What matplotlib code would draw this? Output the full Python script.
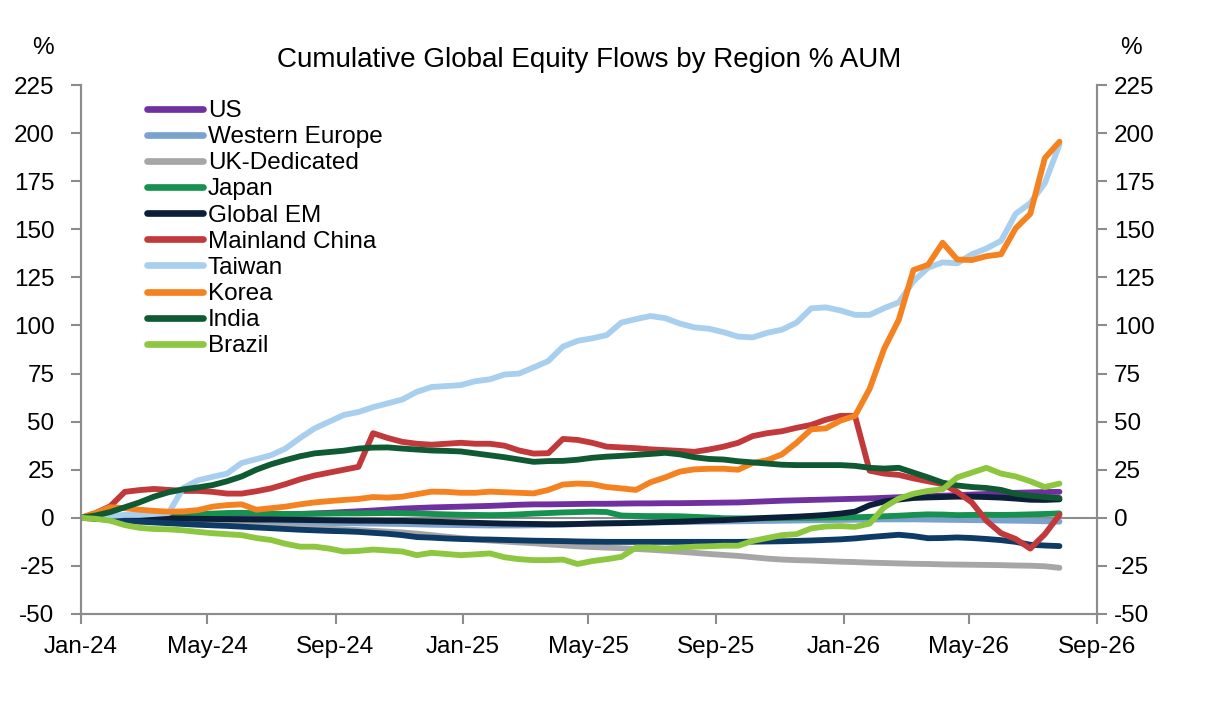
import pandas as pd
import matplotlib
matplotlib.use("Agg")
import matplotlib.pyplot as plt
import matplotlib.dates as mdates

plt.rcParams['font.family'] = ['Liberation Sans', 'DejaVu Sans']
plt.rcParams['axes.unicode_minus'] = False

# fortnightly observations, Jan-24 .. Jul-26
dates = pd.date_range("2024-01-01", periods=68, freq="14D")

us = [0, 0.2, 0.3, 0.4, 0.5, 0.6, 0.7, 0.8, 0.9, 1, 1.1, 1.2, 1.4, 1.6, 1.8, 2, 2.3, 2.6, 3, 3.4,
      3.8, 4.3, 4.8, 5.1, 5.4, 5.6, 5.8, 6, 6.2, 6.5, 6.8, 7, 7, 7.1, 7.2, 7.3, 7.3, 7.4, 7.5, 7.5,
      7.6, 7.6, 7.7, 7.8, 7.9, 8, 8.3, 8.6, 8.9, 9.1, 9.3, 9.5, 9.7, 9.9, 10.1, 10.4, 10.7, 11, 11.2, 11.5,
      11.8, 12.1, 12.4, 12.7, 13, 13.2, 13.4, 13.5]
western_europe = [0, -0.2, -0.4, -0.6, -0.8, -1, -1.2, -1.4, -1.6, -1.8, -2, -2.1, -2.2, -2.3, -2.4, -2.5, -2.6, -2.7, -2.8, -2.9,
                  -3, -3.1, -3.2, -3.4, -3.6, -3.7, -3.8, -3.9, -4, -4, -4, -3.9, -3.8, -3.6, -3.3, -3, -2.8, -2.6, -2.5, -2.4,
                  -2.3, -2.2, -2.1, -2, -1.9, -1.8, -1.7, -1.6, -1.5, -1.4, -1.3, -1.2, -1.1, -1, -0.9, -0.8, -0.8, -0.8, -0.9, -1,
                  -1.1, -1.2, -1.3, -1.4, -1.5, -1.6, -1.8, -2]
uk = [0, -0.3, -0.6, -1, -1.3, -1.7, -2, -2.3, -2.7, -3, -3.3, -3.6, -4, -4.3, -4.7, -5, -5.3, -5.7, -6, -6.4,
      -6.8, -7.2, -7.6, -8.2, -9, -9.8, -10.5, -11.2, -11.8, -12.3, -12.8, -13.2, -13.8, -14.3, -14.8, -15.2, -15.5, -15.8, -16.2, -16.6,
      -17.1, -17.6, -18.2, -18.8, -19.3, -19.8, -20.5, -21.2, -21.7, -22, -22.2, -22.5, -22.8, -23, -23.3, -23.5, -23.7, -23.9, -24, -24.2,
      -24.3, -24.4, -24.5, -24.6, -24.8, -24.9, -25.2, -26]
japan = [0, 0.3, 0.6, 0.8, 1, 1.2, 1.3, 1.5, 1.8, 2.2, 2.5, 2.6, 2.4, 2.2, 2, 2, 2.1, 2.2, 2.3, 2.3,
         2.4, 2.5, 2.4, 2.2, 2, 1.8, 1.6, 1.5, 1.4, 1.5, 1.8, 2.2, 2.5, 2.8, 3, 3.2, 3, 1.2, 1, 0.9,
         0.9, 0.8, 0.5, 0.2, -0.2, -0.3, -0.3, -0.2, -0.1, 0, 0, 0.1, 0.2, 0.3, 0.5, 0.8, 1.1, 1.5, 1.8, 1.7,
         1.4, 1.5, 1.6, 1.5, 1.6, 1.8, 2, 2.3]
global_em = [0, -0.1, -0.2, -0.2, -0.3, -0.3, -0.3, -0.4, -0.5, -0.6, -0.7, -0.8, -0.9, -0.9, -1, -1.1, -1.2, -1.3, -1.4, -1.5,
             -1.5, -1.6, -1.6, -1.8, -2, -2.2, -2.4, -2.6, -2.8, -3, -3.1, -3.2, -3.3, -3.3, -3.2, -3, -2.9, -2.8, -2.6, -2.4,
             -2.2, -2, -1.7, -1.4, -1.2, -0.8, -0.4, 0, 0.3, 0.6, 1, 1.5, 2.2, 3.2, 6.5, 8.5, 9.5, 10.3, 10.6, 10.8,
             11, 11, 10.8, 10.5, 10, 9.4, 9.3, 9.6]
# dark blue series drawn in the chart without a legend entry
other_blue = [0, -0.5, -1, -1.5, -2, -2.4, -2.8, -3.2, -3.6, -3.9, -4.2, -4.6, -5, -5.4, -5.8, -6.2, -6.5, -6.8, -7, -7.3,
              -7.8, -8.3, -9, -10, -10.3, -10.7, -11, -11.2, -11.3, -11.5, -11.7, -11.9, -12, -12.1, -12.3, -12.4, -12.5, -12.5, -12.5, -12.5,
              -12.5, -12.5, -12.5, -12.5, -12.5, -12.5, -12.4, -12.3, -12.2, -12, -11.8, -11.5, -11.2, -10.7, -10, -9.4, -8.8, -9.5, -10.6, -10.5,
              -10.2, -10.5, -11, -11.6, -12.5, -14, -14.4, -14.7]
china = [0, 2.5, 6, 13.5, 14.4, 15, 14.5, 14, 14, 13.5, 12.6, 12.6, 13.8, 15.3, 17.5, 20, 22, 23.5, 25, 26.5,
         44, 41.5, 39.5, 38.5, 38, 38.5, 39, 38.5, 38.5, 37.5, 35, 33.4, 33.6, 41, 40.5, 39, 37, 36.6, 36.2, 35.6,
         35.2, 34.8, 34.3, 35.5, 37, 39, 42.5, 44, 45, 46.8, 48.3, 51, 53, 53, 24.5, 23, 22.3, 20.5, 19, 17.5,
         13.5, 8, -1.5, -8, -11, -16, -8.5, 1.5]
taiwan = [0, 0.5, 1, 1.5, 1.5, 2, 2.5, 15.5, 19.5, 21.3, 23, 28.5, 30.5, 32.5, 36, 41.5, 46.5, 50, 53.5, 55,
          57.5, 59.5, 61.5, 65.5, 68, 68.5, 69, 71, 72, 74.5, 75, 78.2, 81.5, 89, 92, 93.3, 95, 101.5, 103.3, 104.9,
          103.8, 101, 99, 98.3, 96.5, 94.2, 93.8, 96.2, 97.8, 101.5, 108.9, 109.4, 107.8, 105.5, 105.5, 109, 112, 123, 130, 132.8,
          132.3, 137, 140, 144, 158, 163.6, 174, 194]
korea = [0, 2.5, 5.5, 5, 4.2, 3.6, 3.2, 3.3, 4, 5.8, 6.6, 7, 4.2, 5, 5.8, 7, 8, 8.7, 9.3, 9.8,
         10.8, 10.5, 11, 12.3, 13.6, 13.5, 13, 13, 13.6, 13.3, 13, 12.7, 14.5, 17.3, 17.8, 17.5, 16, 15.3, 14.5, 18.5,
         21, 24, 25.2, 25.5, 25.5, 25, 28.5, 30, 33, 39, 46, 46.5, 50.5, 53, 67, 88, 103, 128.8, 131.5, 143,
         134.3, 134, 136, 137, 150.5, 158, 187, 195.5]
india = [0, 1.2, 3, 5.5, 8, 11, 13.3, 14.8, 15.8, 17, 19, 21.5, 25, 27.8, 30, 32, 33.5, 34.2, 34.9, 36,
         36.5, 36.6, 36, 35.5, 35, 34.8, 34.5, 33.5, 32.5, 31.5, 30.3, 29.1, 29.5, 29.6, 30.2, 31.2, 31.8, 32.2, 32.7, 33.2,
         33.8, 33, 31.5, 30.6, 30.3, 29.4, 28.8, 28.2, 27.6, 27.4, 27.4, 27.4, 27.4, 27, 26, 25.6, 26, 23.5, 21, 18.3,
         16.8, 16, 15.5, 14.5, 12.5, 11.5, 10.8, 10.3]
brazil = [0, -0.5, -1.5, -3.8, -5.2, -5.8, -6, -6.5, -7.3, -8, -8.5, -9, -10.5, -11.5, -13.5, -15, -15, -16, -17.5, -17.2,
          -16.5, -17, -17.5, -19.4, -18.2, -18.8, -19.4, -19, -18.5, -20.5, -21.5, -22, -22, -21.7, -24, -22.5, -21.5, -20.3, -15.5, -15.5,
          -16, -15.5, -15, -14.8, -14.5, -14.5, -12, -10.5, -9, -8.5, -5.5, -4.5, -4.3, -4.7, -3, 5.5, 10, 12.5, 14, 14.8,
          21, 23.5, 26, 23, 21.5, 19, 16, 17.8]

series = [
    ("US", us, "#7030a0"),
    ("Western Europe", western_europe, "#7ba1cd"),
    ("UK-Dedicated", uk, "#a6a6a6"),
    ("Japan", japan, "#179150"),
    ("Global EM", global_em, "#0c1f38"),
    (None, other_blue, "#0e3a66"),
    ("Mainland China", china, "#c1393a"),
    ("Taiwan", taiwan, "#a9cfee"),
    ("Korea", korea, "#f58220"),
    ("India", india, "#0f5a32"),
    ("Brazil", brazil, "#8dc63f"),
]

axis_grey = "#8c8c8c"

fig = plt.figure(figsize=(12.06, 7.02), dpi=100)
ax = fig.add_axes([81 / 1206, 88 / 702, 1016 / 1206, 529 / 702])

ax.axhline(0, color=axis_grey, lw=1.5, zorder=1)
handles = []
for name, vals, col in series:
    ln, = ax.plot(dates, vals, color=col, lw=4.2, solid_joinstyle="round",
                  solid_capstyle="round", zorder=2)
    if name:
        ln.set_label(name)
        handles.append(ln)

ax.set_xlim(pd.Timestamp("2024-01-01"), pd.Timestamp("2026-09-01"))
ax.set_ylim(-50, 225)
ax.set_yticks(range(-50, 226, 25))
ax.xaxis.set_major_locator(mdates.MonthLocator(bymonth=[1, 5, 9]))
ax.xaxis.set_major_formatter(mdates.DateFormatter("%b-%y"))

ax2 = ax.twinx()
ax2.set_ylim(-50, 225)
ax2.set_yticks(range(-50, 226, 25))

for a in (ax, ax2):
    for s in a.spines.values():
        s.set_color(axis_grey)
        s.set_linewidth(1.5)
    a.spines["top"].set_visible(False)
    a.tick_params(colors=axis_grey, labelcolor="black", labelsize=17.5, width=1.5, length=7)
ax.tick_params(axis="y", pad=12)
ax.tick_params(axis="x", pad=9)
ax2.tick_params(axis="y", pad=5)

fig.text(43 / 1206, 1 - 48 / 702, "%", fontsize=17.5, ha="center", va="center")
fig.text(1131 / 1206, 1 - 48 / 702, "%", fontsize=17.5, ha="center", va="center")
fig.text(589 / 1206, 1 - 60 / 702, "Cumulative Global Equity Flows by Region % AUM",
         fontsize=20, ha="center", va="center")

leg = ax.legend(handles=handles, loc="upper left", bbox_to_anchor=(147 / 1206, 1 - 100 / 702),
                bbox_transform=fig.transFigure, frameon=False, fontsize=17.5,
                borderpad=0, borderaxespad=0, labelspacing=0.17, handlelength=2.3,
                handletextpad=0.2)
for ln in leg.get_lines():
    ln.set_linewidth(4.8)
    ln.set_solid_capstyle("round")

plt.savefig("out.png", dpi=100)
